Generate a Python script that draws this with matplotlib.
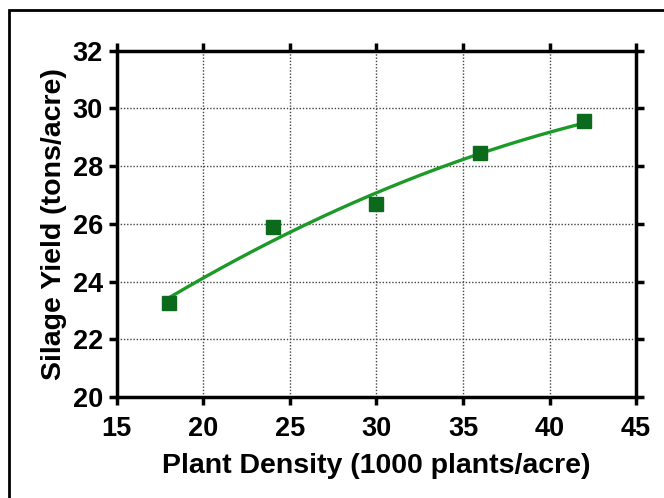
import numpy as np
import matplotlib.pyplot as plt
from matplotlib.patches import Rectangle

# plant density (1000 plants/acre) and silage yield (tons/acre)
density = [18, 24, 30, 36, 42]
yield_tons = [23.25, 25.9, 26.7, 28.45, 29.55]

x_ticks = [15, 20, 25, 30, 35, 40, 45]
y_ticks = [20, 22, 24, 26, 28, 30, 32]

plt.rcParams['font.family'] = ['Liberation Sans', 'DejaVu Sans']
plt.rcParams['font.weight'] = 'bold'

fig = plt.figure(figsize=(6.64, 4.98), dpi=100)
ax = fig.add_axes([0.176, 0.203, 0.782, 0.695])

# quadratic trend line through the points
coef = np.polyfit(density, yield_tons, 2)
xs = np.linspace(min(density), max(density), 200)
ax.plot(xs, np.polyval(coef, xs), color='#1c9a28', lw=2.4, zorder=3)
ax.plot(density, yield_tons, 's', color='#0b6a1c', ms=10, zorder=4)

ax.set_xlim(15, 45)
ax.set_ylim(20, 32)
ax.set_xticks(x_ticks)
ax.set_yticks(y_ticks)
ax.grid(True, ls=(0, (1, 1.3)), color='#444444', lw=1.0)
for s in ax.spines.values():
    s.set_linewidth(2.5)
ax.tick_params(direction='out', length=6, width=2.5, labelsize=19.5,
               top=True, right=True)
ax.tick_params(axis='x', pad=8)
ax.tick_params(axis='y', pad=4)

ax.set_xlabel('Plant Density (1000 plants/acre)', fontsize=20.5, fontweight='bold', labelpad=8)
ax.set_ylabel('Silage Yield (tons/acre)', fontsize=20.5, fontweight='bold', labelpad=4)

# outer frame
fig.patches.append(Rectangle((9 / 664, -0.1), 1.2, 1 - 10 / 498 + 0.1,
                             transform=fig.transFigure, fill=False,
                             ec='black', lw=2))

plt.savefig('out.png', dpi=100)
